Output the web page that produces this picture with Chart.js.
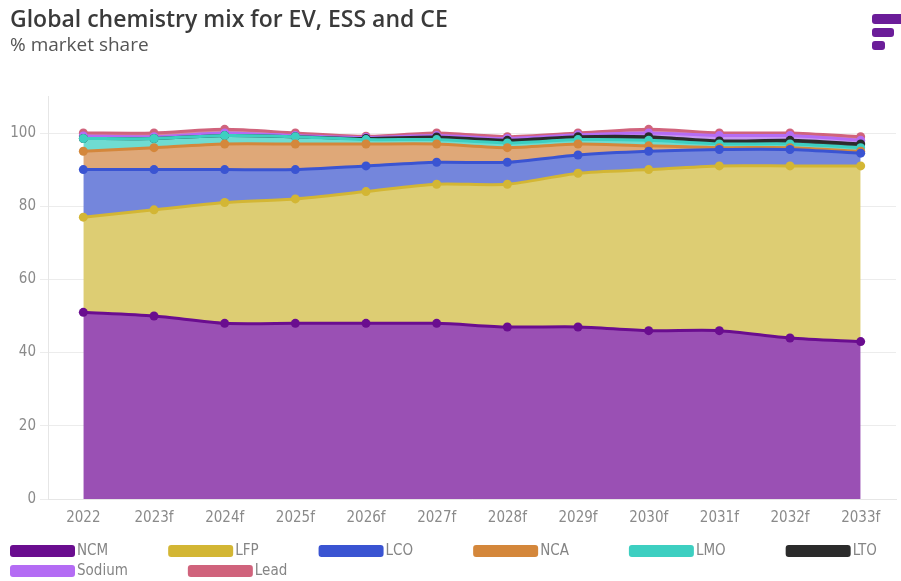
<!DOCTYPE html>
<html>
<head>
<meta charset="utf-8">
<script src="https://cdn.jsdelivr.net/npm/chart.js@4/dist/chart.umd.min.js"></script>
<style>
  html, body { margin: 0; padding: 0; background: #ffffff; }
  #wrap { position: relative; width: 901px; height: 581px; }
</style>
</head>
<body>
<div id="wrap"><canvas id="c" width="901" height="581"></canvas></div>
<script>
// ---- data (individual shares, stacked) ----
const categories = ["2022", "2023f", "2024f", "2025f", "2026f", "2027f", "2028f", "2029f", "2030f", "2031f", "2032f", "2033f"];
const NCM    = [51, 50, 48, 48, 48, 48, 47, 47, 46, 46, 44, 43];
const LFP    = [26, 29, 33, 34, 36, 38, 39, 42, 44, 45, 47, 48];
const LCO    = [13, 11, 9, 8, 7, 6, 6, 5, 5, 4.5, 4.5, 3.5];
const NCA    = [5, 6, 7, 7, 6, 5, 4, 3, 1.5, 0.5, 0.5, 0.5];
const LMO    = [3.5, 2.5, 2.3, 2, 1.2, 1.2, 1.3, 1.2, 1.5, 1, 1, 1];
const LTO    = [0, 0, 0, 0, 0.3, 0.7, 0.7, 0.8, 1, 0.8, 1, 1];
const Sodium = [0.7, 0.5, 0.7, 0.3, 0.3, 0.4, 0.5, 0.5, 1, 1.5, 1.3, 1];
const Lead   = [0.8, 1, 1, 0.7, 0.3, 0.7, 0.5, 0.5, 1, 0.7, 0.7, 1];
const yTicks = [0, 20, 40, 60, 80, 100];

const seriesNames = ["NCM", "LFP", "LCO", "NCA", "LMO", "LTO", "Sodium", "Lead"];
const seriesData = [NCM, LFP, LCO, NCA, LMO, LTO, Sodium, Lead];
const lineColors = ["#6a0d8f", "#d3b634", "#3a54d2", "#d4873b", "#3dcfc1", "#2b2b2b", "#b46cf4", "#d0637c"];
const fillColors = ["#9a50b4", "#ddcd73", "#7486dc", "#dfa878", "#6fdcd1", "#3a3a3a", "#c898f2", "#d98a9c"];

const datasets = seriesNames.map((name, i) => ({
  label: name,
  data: seriesData[i],
  borderColor: lineColors[i],
  backgroundColor: fillColors[i],
  pointBackgroundColor: lineColors[i],
  pointBorderColor: lineColors[i],
  pointRadius: 4.5,
  pointBorderWidth: 0,
  borderWidth: 3,
  tension: 0.25,
  fill: i === 0 ? 'origin' : '-1'
}));

const FONT = "'Liberation Sans Narrow', 'DejaVu Sans Condensed', 'Roboto', sans-serif";

const customLegend = {
  id: 'customLegend',
  afterDraw(chart) {
    const ctx = chart.ctx;
    ctx.save();
    ctx.font = "15px " + FONT;
    ctx.textBaseline = 'middle';
    const rows = [[0, 1, 2, 3, 4, 5], [6, 7]];
    const rowY = [551, 571];
    rows.forEach((row, r) => {
      let x = 10;
      row.forEach(i => {
        ctx.fillStyle = lineColors[i];
        ctx.beginPath();
        ctx.roundRect(x, rowY[r] - 6, 65, 12, 3);
        ctx.fill();
        ctx.fillStyle = '#858585';
        ctx.textAlign = 'left';
        ctx.fillText(seriesNames[i], x + 67, rowY[r]);
        x += 67 + ctx.measureText(seriesNames[i]).width + 60;
      });
    });
    // logo
    ctx.fillStyle = '#6b1d99';
    [[872, 14, 32, 10], [872, 28, 22, 9], [872, 41, 13, 9]].forEach(b => {
      ctx.beginPath();
      ctx.roundRect(b[0], b[1], b[2], b[3], 3);
      ctx.fill();
    });
    ctx.restore();
  }
};

new Chart(document.getElementById('c'), {
  type: 'line',
  data: { labels: categories, datasets },
  plugins: [customLegend],
  options: {
    responsive: false,
    animation: false,
    layout: { padding: { left: 10, right: 5, top: 4, bottom: 52 } },
    plugins: {
      legend: { display: false },
      tooltip: { enabled: false },
      filler: { drawTime: 'beforeDatasetsDraw' },
      title: {
        display: true,
        text: 'Global chemistry mix for EV, ESS and CE',
        align: 'start',
        color: '#3a3a3a',
        font: { family: "'Open Sans', 'Noto Sans', sans-serif", size: 23, weight: '600' },
        padding: { top: 3, bottom: 0 }
      },
      subtitle: {
        display: true,
        text: '% market share',
        align: 'start',
        color: '#555555',
        font: { family: "'Open Sans', 'Noto Sans', sans-serif", size: 19 },
        padding: { top: 0, bottom: 39 }
      }
    },
    scales: {
      x: {
        offset: true,
        grid: { display: false },
        border: { display: true, color: '#e6e6e6' },
        ticks: { color: '#8a8a8a', font: { family: FONT, size: 15 }, padding: 2, maxRotation: 0 }
      },
      y: {
        stacked: true,
        min: 0,
        max: 110,
        afterBuildTicks: axis => { axis.ticks = yTicks.map(v => ({ value: v })); },
        afterFit: axis => { axis.width = 38; },
        grid: { color: '#ececec', tickLength: 8 },
        border: { display: true, color: '#e6e6e6' },
        ticks: { color: '#8a8a8a', font: { family: FONT, size: 15 }, padding: 4 }
      }
    }
  }
});
</script>
</body>
</html>
